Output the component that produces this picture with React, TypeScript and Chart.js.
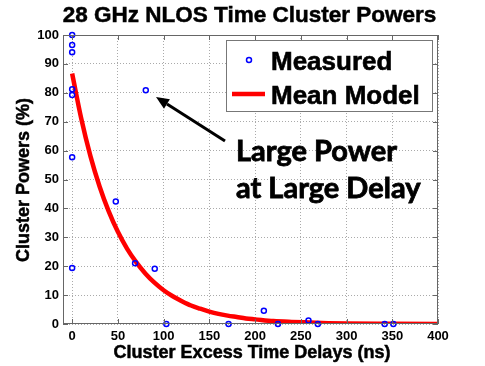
import React, { useEffect, useRef } from "react";
import { Chart, registerables } from "chart.js";

Chart.register(...registerables);

const titleText = "28 GHz NLOS Time Cluster Powers";
const xAxisTitle = "Cluster Excess Time Delays (ns)";
const yAxisTitle = "Cluster Powers (%)";
const legendLabels = ["Measured", "Mean Model"];
const annotationLines = ["Large Power", "at Large Delay"];

const xTicks = [0, 50, 100, 150, 200, 250, 300, 350, 400];
const yTicks = [0, 10, 20, 30, 40, 50, 60, 70, 80, 90, 100];

const measuredDelay = [0, 0, 0, 0, 0, 0, 0, 47.7, 68.8, 80.5, 90.3, 103, 171, 209.6, 225, 258.4, 268.6, 341.7, 351.2];
const measuredPower = [100, 96.5, 94, 81.2, 79.2, 57.7, 19.4, 42.4, 21.0, 80.9, 19.1, 0, 0, 4.6, 0, 1.2, 0, 0, 0];

const modelDelay = [0, 10, 20, 30, 40, 50, 60, 70, 80, 90, 100, 110, 120, 130, 140, 150, 160, 170, 180, 190, 200, 220, 240, 260, 280, 300, 350, 400];
const modelPower = [86.7, 71.0, 58.1, 47.6, 39.0, 31.9, 26.1, 21.4, 17.5, 14.3, 11.7, 9.6, 7.9, 6.4, 5.3, 4.3, 3.5, 2.9, 2.4, 1.9, 1.6, 1.0, 0.7, 0.5, 0.3, 0.2, 0.1, 0.0];

const SANS = '"Liberation Sans", Arial, Helvetica, sans-serif';

const decorPlugin = {
  id: "decor",
  afterDatasetsDraw(chart: any) {
    const { ctx, chartArea } = chart;
    const xs = chart.scales.x;
    const ys = chart.scales.y;
    const { left, right, top, bottom } = chartArea;
    ctx.save();
    // box
    ctx.strokeStyle = "#666";
    ctx.lineWidth = 1;
    ctx.setLineDash([]);
    ctx.strokeRect(left + 0.5, top + 0.5, right - left - 1, bottom - top - 1);
    // inward ticks
    ctx.beginPath();
    for (const v of xTicks) {
      const px = Math.round(xs.getPixelForValue(v)) + 0.5;
      ctx.moveTo(px, bottom);
      ctx.lineTo(px, bottom - 5);
      ctx.moveTo(px, top);
      ctx.lineTo(px, top + 5);
    }
    for (const v of yTicks) {
      const py = Math.round(ys.getPixelForValue(v)) + 0.5;
      ctx.moveTo(left, py);
      ctx.lineTo(left + 5, py);
      ctx.moveTo(right, py);
      ctx.lineTo(right - 5, py);
    }
    ctx.stroke();

    // legend
    const lx = 226, ly = 40, lw = 207, lh = 72;
    ctx.fillStyle = "#fff";
    ctx.fillRect(lx, ly, lw, lh);
    ctx.strokeStyle = "#777";
    ctx.strokeRect(lx + 0.5, ly + 0.5, lw - 1, lh - 1);
    ctx.beginPath();
    ctx.arc(249, 60, 2.5, 0, Math.PI * 2);
    ctx.strokeStyle = "#0000ff";
    ctx.lineWidth = 1.5;
    ctx.stroke();
    ctx.beginPath();
    ctx.moveTo(232, 94);
    ctx.lineTo(265, 94);
    ctx.strokeStyle = "#ff0000";
    ctx.lineWidth = 4.5;
    ctx.stroke();
    ctx.fillStyle = "#000";
    ctx.strokeStyle = "#000";
    ctx.lineWidth = 0.6;
    ctx.font = `bold 26px ${SANS}`;
    ctx.textAlign = "left";
    ctx.textBaseline = "alphabetic";
    ctx.fillText(legendLabels[0], 271, 70);
    ctx.strokeText(legendLabels[0], 271, 70);
    ctx.fillText(legendLabels[1], 271, 104);
    ctx.strokeText(legendLabels[1], 271, 104);

    // annotation
    ctx.font = `bold 29px Lato, "Open Sans", sans-serif`;
    ctx.lineWidth = 0.8;
    ctx.fillText(annotationLines[0], 236, 161);
    ctx.strokeText(annotationLines[0], 236, 161);
    ctx.fillText(annotationLines[1], 236, 198);
    ctx.strokeText(annotationLines[1], 236, 198);

    // arrow
    const tx = 225, ty = 141, hx = 156, hy = 97;
    const ang = Math.atan2(hy - ty, hx - tx);
    const hl = 13, hw = 5.5;
    const bx = hx - hl * Math.cos(ang), by = hy - hl * Math.sin(ang);
    ctx.beginPath();
    ctx.moveTo(tx, ty);
    ctx.lineTo(bx, by);
    ctx.strokeStyle = "#000";
    ctx.lineWidth = 3;
    ctx.stroke();
    ctx.beginPath();
    ctx.moveTo(hx, hy);
    ctx.lineTo(bx + hw * Math.sin(ang), by - hw * Math.cos(ang));
    ctx.lineTo(bx - hw * Math.sin(ang), by + hw * Math.cos(ang));
    ctx.closePath();
    ctx.fillStyle = "#000";
    ctx.fill();

    // titles
    ctx.fillStyle = "#000";
    ctx.strokeStyle = "#000";
    ctx.lineWidth = 0.5;
    ctx.textAlign = "center";
    ctx.textBaseline = "alphabetic";
    ctx.font = `bold 22.5px ${SANS}`;
    ctx.fillText(titleText, 249.5, 22);
    ctx.strokeText(titleText, 249.5, 22);
    ctx.font = `bold 18px ${SANS}`;
    ctx.fillText(xAxisTitle, 252, 358);
    ctx.strokeText(xAxisTitle, 252, 358);
    ctx.translate(29, 180);
    ctx.rotate(-Math.PI / 2);
    ctx.fillText(yAxisTitle, 0, 0);
    ctx.strokeText(yAxisTitle, 0, 0);
    ctx.restore();
  },
};

export default function App() {
  const canvasRef = useRef<HTMLCanvasElement | null>(null);

  useEffect(() => {
    if (!canvasRef.current) return;
    const chart = new Chart(canvasRef.current, {
      type: "scatter",
      data: {
        datasets: [
          {
            label: legendLabels[0],
            data: measuredDelay.map((x, i) => ({ x, y: measuredPower[i] })),
            showLine: false,
            pointStyle: "circle",
            pointRadius: 2.5,
            pointBorderWidth: 1.5,
            pointBorderColor: "#0000ff",
            pointBackgroundColor: "rgba(0,0,0,0)",
            borderColor: "#0000ff",
            backgroundColor: "rgba(0,0,0,0)",
            clip: false as any,
          },
          {
            label: legendLabels[1],
            data: modelDelay.map((x, i) => ({ x, y: modelPower[i] })),
            showLine: true,
            pointRadius: 0,
            borderColor: "#ff0000",
            backgroundColor: "#ff0000",
            borderWidth: 4.5,
            cubicInterpolationMode: "monotone",
            clip: 0 as any,
          } as any,
        ],
      },
      options: {
        responsive: false,
        animation: false,
        events: [],
        layout: { padding: { left: 0, right: 47, top: 35, bottom: 0 } },
        plugins: {
          legend: { display: false },
          title: { display: false },
          tooltip: { enabled: false },
        },
        scales: {
          x: {
            type: "linear",
            min: -10,
            max: 400,
            afterBuildTicks: (s: any) => {
              s.ticks = xTicks.map((v) => ({ value: v }));
            },
            afterFit: (s: any) => {
              s.height = 42;
            },
            grid: { color: "#aaa", lineWidth: 1, drawTicks: false },
            border: { display: false, dash: [1, 2] },
            ticks: {
              padding: 5,
              color: "#000",
              font: { family: SANS, size: 13, weight: "bold" },
              maxRotation: 0,
            },
          },
          y: {
            type: "linear",
            min: 0,
            max: 100,
            afterBuildTicks: (s: any) => {
              s.ticks = yTicks.map((v) => ({ value: v }));
            },
            afterFit: (s: any) => {
              s.width = 63;
            },
            grid: { color: "#aaa", lineWidth: 1, drawTicks: false },
            border: { display: false, dash: [1, 2] },
            ticks: {
              padding: 4,
              color: "#000",
              font: { family: SANS, size: 13, weight: "bold" },
            },
          },
        },
      },
      plugins: [decorPlugin],
    } as any);
    return () => chart.destroy();
  }, []);

  return (
    <div style={{ position: "fixed", left: 0, top: 0, width: 485, height: 366, background: "#fff" }}>
      <canvas ref={canvasRef} width={485} height={366} style={{ display: "block" }} />
    </div>
  );
}
